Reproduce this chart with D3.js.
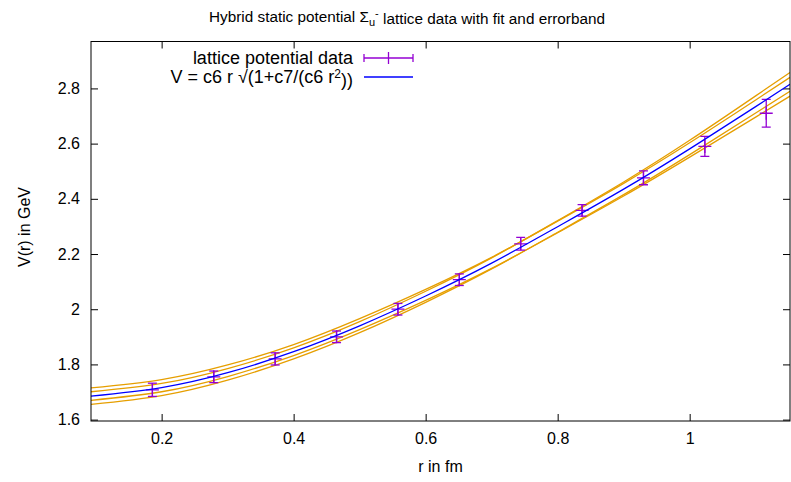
<!DOCTYPE html>
<html>
<head>
<meta charset="utf-8">
<script src="https://cdn.jsdelivr.net/npm/d3@7"></script>
<style>
  body { margin: 0; background: #fff; }
  text { font-family: "Liberation Sans", Arial, Helvetica, sans-serif; fill: #000; }
</style>
</head>
<body>
<div id="chart"></div>
<script>
// lattice data (r in fm, V in GeV, error)
var r_data = [0.186, 0.279, 0.372, 0.465, 0.558, 0.651, 0.744, 0.837, 0.930, 1.023, 1.116]
var V_data = [1.708, 1.755, 1.820, 1.900, 2.000, 2.107, 2.237, 2.358, 2.476, 2.590, 2.710]
var V_err  = [0.024, 0.021, 0.022, 0.021, 0.021, 0.021, 0.023, 0.021, 0.025, 0.036, 0.050]

var r_curve = [0.093, 0.2, 0.3, 0.4, 0.5, 0.6, 0.7, 0.8, 0.9, 1.0, 1.1, 1.152]
var V_fit   = [1.685, 1.716, 1.770, 1.846, 1.940, 2.048, 2.167, 2.299, 2.435, 2.581, 2.734, 2.815]
var V_band1 = [1.715, 1.745, 1.798, 1.872, 1.966, 2.072, 2.188, 2.319, 2.456, 2.603, 2.758, 2.840]
var V_band2 = [1.701, 1.731, 1.785, 1.860, 1.955, 2.065, 2.186, 2.321, 2.461, 2.612, 2.773, 2.858]
var V_band3 = [1.670, 1.701, 1.756, 1.832, 1.926, 2.032, 2.148, 2.277, 2.410, 2.551, 2.696, 2.772]
var V_band4 = [1.655, 1.687, 1.743, 1.820, 1.915, 2.025, 2.146, 2.279, 2.415, 2.560, 2.711, 2.790]

var x_ticks = [0.2, 0.4, 0.6, 0.8, 1.0]
var y_ticks = [1.6, 1.8, 2.0, 2.2, 2.4, 2.6, 2.8]

var W = 791, H = 482
var margin = {top: 41.5, right: 1, bottom: 61, left: 91}
var width = W - margin.left - margin.right
var height = H - margin.top - margin.bottom

var svg = d3.select("#chart").append("svg")
  .attr("width", W).attr("height", H)

var g = svg.append("g")
  .attr("transform", "translate(" + margin.left + "," + margin.top + ")")

var x = d3.scaleLinear().domain([0.093, 1.152]).range([0, width])
var y = d3.scaleLinear().domain([1.595, 2.97]).range([height, 0])

var fs = 16

// ticks, mirrored on all four sides, pointing inward
var tl = 7
g.append("g").attr("transform", "translate(0," + height + ")")
  .call(d3.axisBottom(x).tickValues(x_ticks).tickSizeInner(-tl).tickSizeOuter(0).tickPadding(12).tickFormat(d3.format("~g")))
g.append("g")
  .call(d3.axisTop(x).tickValues(x_ticks).tickSizeInner(-tl).tickSizeOuter(0).tickFormat(""))
g.append("g")
  .call(d3.axisLeft(y).tickValues(y_ticks).tickSizeInner(-tl).tickSizeOuter(0).tickPadding(11).tickFormat(d3.format("~g")))
g.append("g").attr("transform", "translate(" + width + ",0)")
  .call(d3.axisRight(y).tickValues(y_ticks).tickSizeInner(-tl).tickSizeOuter(0).tickFormat(""))
g.selectAll(".domain").remove()
g.selectAll(".tick line").attr("stroke", "#000")
g.selectAll(".tick text").style("font-size", fs + "px").attr("fill", "#000")
  .style("font-family", "'Liberation Sans', Arial, sans-serif")

// clip to the plot box
svg.append("clipPath").attr("id", "clip").append("rect")
  .attr("width", width).attr("height", height)
var plot = g.append("g").attr("clip-path", "url(#clip)")

var line = d3.line()
  .x(function(d) { return x(d[0]) })
  .y(function(d) { return y(d[1]) })
  .curve(d3.curveNatural)

// errorband lines
var bands = [V_band1, V_band2, V_band3, V_band4]
bands.forEach(function(b) {
  plot.append("path")
    .datum(d3.zip(r_curve, b))
    .attr("d", line)
    .attr("fill", "none")
    .attr("stroke", "#e69f00")
    .attr("stroke-width", 1.3)
})

// data with y errorbars
var purple = "#9400d3"
var pts = d3.zip(r_data, V_data, V_err)
var bar = plot.selectAll("g.pt").data(pts).enter().append("g").attr("class", "pt")
  .attr("stroke", purple).attr("stroke-width", 1.3)
bar.append("line")
  .attr("x1", function(d) { return x(d[0]) }).attr("x2", function(d) { return x(d[0]) })
  .attr("y1", function(d) { return y(d[1] - d[2]) }).attr("y2", function(d) { return y(d[1] + d[2]) })
bar.append("line")
  .attr("x1", function(d) { return x(d[0]) - 4.5 }).attr("x2", function(d) { return x(d[0]) + 4.5 })
  .attr("y1", function(d) { return y(d[1] - d[2]) }).attr("y2", function(d) { return y(d[1] - d[2]) })
bar.append("line")
  .attr("x1", function(d) { return x(d[0]) - 4.5 }).attr("x2", function(d) { return x(d[0]) + 4.5 })
  .attr("y1", function(d) { return y(d[1] + d[2]) }).attr("y2", function(d) { return y(d[1] + d[2]) })
// plus point
bar.append("path")
  .attr("d", function(d) {
    var px = x(d[0]), py = y(d[1])
    return "M" + (px - 6.5) + "," + py + "H" + (px + 6.5) + "M" + px + "," + (py - 6.5) + "V" + (py + 6.5)
  })

// fit curve
plot.append("path")
  .datum(d3.zip(r_curve, V_fit))
  .attr("d", line)
  .attr("fill", "none")
  .attr("stroke", "#0000ff")
  .attr("stroke-width", 1.3)

// border
g.append("rect").attr("width", width).attr("height", height)
  .attr("fill", "none").attr("stroke", "#000").attr("stroke-width", 1)

// key
var kfs = 18
var key = svg.append("g").style("font-size", kfs + "px")
key.append("text").attr("x", 353).attr("y", 58).attr("dy", "0.35em")
  .attr("text-anchor", "end").text("lattice potential data")
var k1 = key.append("g").attr("stroke", purple).attr("stroke-width", 1.3)
k1.append("line").attr("x1", 364).attr("x2", 413).attr("y1", 58).attr("y2", 58)
k1.append("line").attr("x1", 364).attr("x2", 364).attr("y1", 54).attr("y2", 62)
k1.append("line").attr("x1", 413).attr("x2", 413).attr("y1", 54).attr("y2", 62)
k1.append("line").attr("x1", 388.5).attr("x2", 388.5).attr("y1", 52).attr("y2", 64)

var t2 = key.append("text").attr("x", 353).attr("y", 77).attr("dy", "0.35em")
  .attr("text-anchor", "end")
t2.append("tspan").text("V = c6 r \u221a(1+c7/(c6 r")
t2.append("tspan").attr("dy", "-0.45em").style("font-size", "12px").text("2")
t2.append("tspan").attr("dy", "0.45em").text("))")
key.append("line").attr("x1", 364).attr("x2", 413).attr("y1", 77).attr("y2", 77)
  .attr("stroke", "#0000ff").attr("stroke-width", 1.3)

// title
var title = svg.append("text").attr("x", 407).attr("y", 17).attr("dy", "0.35em")
  .attr("text-anchor", "middle").style("font-size", "15.3px")
title.append("tspan").text("Hybrid static potential \u03a3")
title.append("tspan").attr("dy", "0.3em").style("font-size", "11px").text("u")
title.append("tspan").attr("dy", "-0.75em").style("font-size", "11px").text("-")
title.append("tspan").attr("dy", "0.45em").text(" lattice data with fit and errorband")

// axis labels
svg.append("text").attr("x", margin.left + width / 2).attr("y", 466).attr("dy", "0.35em")
  .attr("text-anchor", "middle").style("font-size", fs + "px").text("r in fm")
svg.append("text").attr("transform", "translate(24," + 227 + ") rotate(-90)").attr("dy", "0.35em")
  .attr("text-anchor", "middle").style("font-size", fs + "px").text("V(r) in GeV")
</script>
</body>
</html>
